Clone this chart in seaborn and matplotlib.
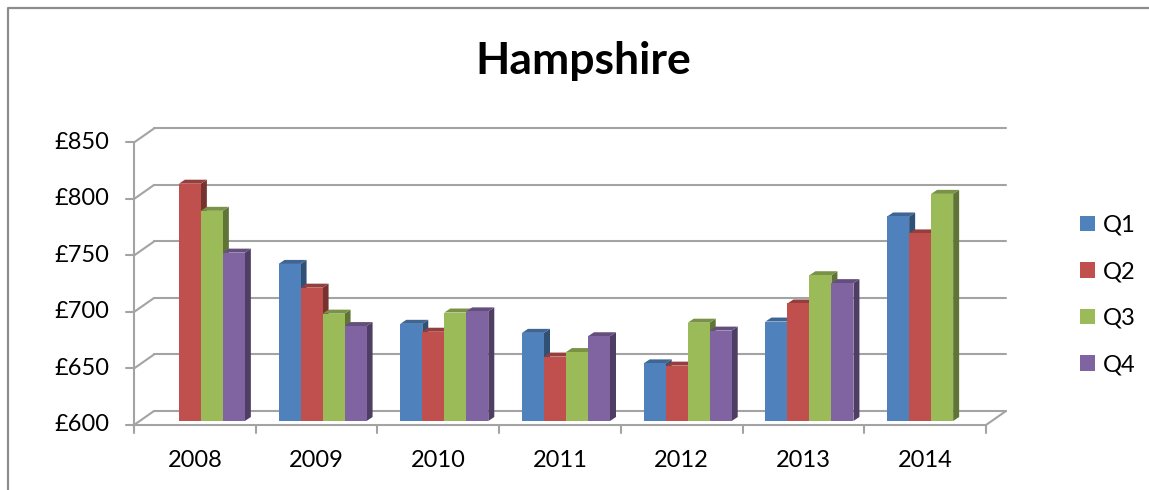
import numpy as np
import pandas as pd
import matplotlib
matplotlib.use('Agg')
import matplotlib.pyplot as plt
import matplotlib.colors as mcolors
from matplotlib.patches import Polygon
from matplotlib.lines import Line2D
import seaborn as sns

# Data (NaN = no bar)
years = ['2008', '2009', '2010', '2011', '2012', '2013', '2014']
quarters = ['Q1', 'Q2', 'Q3', 'Q4']
q1 = [np.nan, 739, 686, 678, 651, 688, 781]
q2 = [810, 718, 679, 657, 649, 704, 766]
q3 = [786, 695, 696, 661, 687, 729, 801]
q4 = [749, 684, 697, 675, 680, 722, np.nan]
y_ticks = [600, 650, 700, 750, 800, 850]
colors = ['#4F81BD', '#C0504D', '#9BBB59', '#8064A2']

df = pd.DataFrame({
    'year': years * 4,
    'quarter': [q for q in quarters for _ in years],
    'value': q1 + q2 + q3 + q4,
})

sns.set_style('white')
plt.rcParams['font.family'] = ['Lato', 'DejaVu Sans']
plt.rcParams['text.color'] = 'black'

W, H = 1149, 490
fig = plt.figure(figsize=(W / 100, H / 100), dpi=100)
# axes = the plane the bars stand in (middle of the 3D depth)
ax_l, ax_r, ax_b, ax_t = 140, 992, 421, 138.5
ax = fig.add_axes([ax_l / W, (H - ax_b) / H, (ax_r - ax_l) / W, (ax_b - ax_t) / H])

sns.barplot(data=df, x='year', y='value', hue='quarter', order=years,
            hue_order=quarters, palette=colors, width=0.723, errorbar=None,
            saturation=1, linewidth=0, ax=ax, zorder=3)
ax.set_xlim(-0.5, 6.5)
ax.set_ylim(600, 850)
ax.axis('off')

# pixel -> data units, for the fake depth
kx = 7 / (ax_r - ax_l)
ky = 250 / (ax_b - ax_t)
fx, fy = -6 * kx, -4 * ky     # front plane
bx, by = 14 * kx, 10 * ky     # back wall
grid_c = '#a3a3a3'
lw = 1.5
fs = 17

# back wall gridlines + left wall diagonals + front axis ticks/labels
for v in y_ticks:
    ax.plot([-0.5 + bx, 6.5 + bx], [v + by, v + by], color=grid_c, lw=lw, zorder=1, clip_on=False)
    ax.plot([-0.5 + fx, -0.5 + bx], [v + fy, v + by], color=grid_c, lw=lw, zorder=1, clip_on=False)
    ax.plot([-0.5 + fx - 8 * kx, -0.5 + fx], [v + fy, v + fy], color=grid_c, lw=lw, clip_on=False)
    ax.text(-0.5 + fx - 25 * kx, v + fy, f'£{v}', ha='right', va='center', fontsize=fs)
ax.plot([-0.5 + fx, -0.5 + fx], [600 + fy, 850 + fy], color=grid_c, lw=lw, clip_on=False)

# floor
ax.plot([-0.5 + fx, 6.5 + fx], [600 + fy, 600 + fy], color=grid_c, lw=lw, clip_on=False)
ax.plot([6.5 + fx, 6.5 + bx], [600 + fy, 600 + by], color=grid_c, lw=lw, clip_on=False)
for i in range(len(years) + 1):
    xb = i - 0.5 + fx
    ax.plot([xb, xb], [600 + fy, 600 + fy - 8 * ky], color=grid_c, lw=lw, clip_on=False)
for i, yr in enumerate(years):
    ax.text(i + fx, 600 + fy - 36 * ky, yr, ha='center', va='center', fontsize=fs)

# side and top faces of the bars
dx, dy = 6 * kx, 4 * ky
for p in ax.patches:
    h = p.get_height()
    if not np.isfinite(h) or h <= 600:
        continue
    x0, w = p.get_x(), p.get_width()
    rgb = np.array(mcolors.to_rgb(p.get_facecolor()))
    side = Polygon([(x0 + w, 600), (x0 + w + dx, 600 + dy), (x0 + w + dx, h + dy), (x0 + w, h)],
                   closed=True, facecolor=rgb * 0.62, edgecolor='none', zorder=2.9, clip_on=False)
    top = Polygon([(x0, h), (x0 + dx, h + dy), (x0 + w + dx, h + dy), (x0 + w, h)],
                  closed=True, facecolor=rgb * 0.78, edgecolor='none', zorder=2.9, clip_on=False)
    ax.add_patch(side)
    ax.add_patch(top)
    p.set_clip_on(False)
    p.set_y(600)
    p.set_height(h - 600)

# legend
handles, labels = ax.get_legend_handles_labels()
ax.legend(handles, labels, loc='center left', bbox_to_anchor=(1080 / W, 1 - 295 / H),
          bbox_transform=fig.transFigure, frameon=False, fontsize=fs,
          handlelength=0.62, handleheight=0.62, handletextpad=0.35,
          labelspacing=1.08, borderpad=0, borderaxespad=0)

# title and chart border
fig.text(583 / W, 1 - 61 / H, 'Hampshire', ha='center', va='center', fontsize=32, fontweight='bold')
fig.add_artist(Line2D([8 / W, 8 / W, 1], [0, 1 - 8 / H, 1 - 8 / H], transform=fig.transFigure,
                      color='#8c8c8c', lw=1.6))

fig.savefig('out.png', dpi=100)
